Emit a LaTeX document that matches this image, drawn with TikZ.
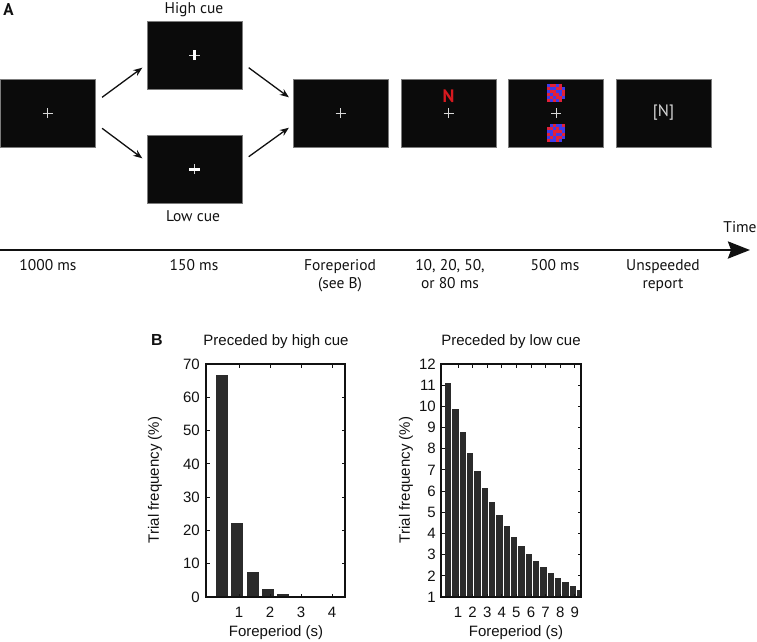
\documentclass[tikz,border=0pt]{standalone}
\usepackage{fontspec}
\setmainfont{PT Sans}
\newfontfamily\fpplotfont{Liberation Sans}
\usetikzlibrary{arrows.meta,calc,positioning}
\definecolor{fpink}{HTML}{111111}
\definecolor{fpscreenfill}{HTML}{0B0B0B}
\definecolor{fpframe}{HTML}{7C7C7C}
\definecolor{fpcrosscol}{HTML}{D8D8D8}
\definecolor{fptargetcol}{HTML}{D7191F}
\definecolor{fpmask0}{HTML}{0B0B0B}
\definecolor{fpmask1}{HTML}{E2203A}
\definecolor{fpmask2}{HTML}{3F3BEA}
\definecolor{fpbarfill}{HTML}{2B2B2B}
\tikzset{
  fpscreen/.style={
    draw=fpframe,
    fill=fpscreenfill,
    line width=0.8pt,
    minimum width=95pt,
    minimum height=68pt,
    inner sep=0pt
  },
  fplabel/.style={font=\fontsize{15.5}{18}\selectfont, text=fpink, inner sep=0pt},
  fptime/.style={fplabel, align=center, anchor=north},
  fppanel/.style={font=\fontsize{17}{18}\selectfont\bfseries, text=fpink, inner sep=0pt},
  fpplot/.style={font=\fpplotfont\fontsize{15}{17}\selectfont, text=fpink, inner sep=0pt},
  fpcross/.style={draw=fpcrosscol, line width=0.9pt},
  fpcue/.style={draw=white, line width=3pt},
  fpedge/.style={
    -{Stealth[length=9pt,width=7pt]},
    line width=1.3pt,
    color=fpink
  },
  fpaxis/.style={
    -{Stealth[length=22pt,width=17pt,inset=3pt]},
    line width=2.6pt,
    color=fpink
  },
  fpbox/.style={draw=fpink, line width=1.1pt},
  fptick/.style={draw=fpink, line width=0.9pt},
  fpbar/.style={fill=fpbarfill}
}
\begin{document}
\begin{tikzpicture}[x=1pt,y=-1pt]
  \useasboundingbox (0,0) rectangle (757,641);

  % panel A: trial sequence
  \node[fppanel] (tagA) at (8.5,10) {A};
  \node[fpscreen] (s1) at (47.5,113) {};
  \node[fpscreen] (high) at (194.5,55) {};
  \node[fpscreen] (low) at (194.5,169) {};
  \node[fpscreen] (fore) at (340.5,113) {};
  \node[fpscreen] (target) at (448.5,113) {};
  \node[fpscreen] (mask) at (556,113) {};
  \node[fpscreen] (report) at (663.5,113) {};

  \node[fplabel] (highlbl) at (194,10) {High cue};
  \node[fplabel] (lowlbl) at (193,216) {Low cue};

  \foreach \s in {s1,fore,target,mask}
    \draw[fpcross] ([xshift=-5pt]\s.center) -- ([xshift=5pt]\s.center)
                   ([yshift=-5pt]\s.center) -- ([yshift=5pt]\s.center);

  \draw[fpcross] ([xshift=-5.5pt]high.center) -- ([xshift=5.5pt]high.center);
  \draw[fpcue] ([yshift=-5pt]high.center) -- ([yshift=5pt]high.center);
  \draw[fpcross] ([yshift=-5pt]low.center) -- ([yshift=5pt]low.center);
  \draw[fpcue] ([xshift=-5.5pt]low.center) -- ([xshift=5.5pt]low.center);

  \node[font=\fontsize{18}{18}\selectfont\bfseries, text=fptargetcol, inner sep=0pt]
    (letter) at (448.5,96) {N};
  \node[fplabel, font=\fontsize{16.5}{18}\selectfont, text=fpcrosscol] (answer)
    at (report.center) {[N]};

  % masks
  \begin{scope}[shift={(mask.center)}]
    \foreach \row [count=\r] in {{2,1,1,2,1,0},{1,2,2,1,1,2},{2,1,1,2,2,1},
                                 {1,2,1,1,2,1},{2,1,2,1,1,2},{1,2,1,2,1,0}}
      \foreach \c [count=\q] in \row
        \fill[fpmask\c] (3*\q-12,3*\r-32.5) rectangle ++(3,3);
    \foreach \row [count=\r] in {{0,2,1,2,2,1},{1,1,2,1,2,2},{2,2,1,1,1,2},
                                 {1,2,1,2,2,1},{2,1,2,1,1,2},{1,2,2,1,2,0}}
      \foreach \c [count=\q] in \row
        \fill[fpmask\c] (3*\q-12,3*\r+7.5) rectangle ++(3,3);
  \end{scope}

  \draw[fpedge] ($(s1.east)+(6.7,-15.7)$) -- ($(high.west)+(-4.3,12.7)$);
  \draw[fpedge] ($(s1.east)+(6.7,15.3)$) -- ($(low.west)+(-4.3,-10.7)$);
  \draw[fpedge] ($(high.east)+(6.3,12.7)$) -- ($(fore.west)+(-3.7,-15.7)$);
  \draw[fpedge] ($(low.east)+(6.3,-12.3)$) -- ($(fore.west)+(-3.7,14.7)$);

  % time line
  \coordinate (tstart) at (0,250);
  \coordinate (tend) at (750,250);
  \draw[fpaxis] (tstart) -- (tend);
  \node[fplabel] (timelbl) at (740,227) {Time};
  \foreach \x/\txt [count=\i] in {48/1000 ms, 194/150 ms, 340/{Foreperiod\\(see B)},
                                  450/{10, 20, 50,\\or 80 ms}, 555/500 ms,
                                  663/{Unspeeded\\report}}
    \node[fptime] (dur\i) at (\x,259) {\txt};

  % panel B: foreperiod distributions
  \node[fpplot, font=\fpplotfont\fontsize{16}{16}\selectfont\bfseries] (tagB) at (157,340) {B};
  \node[fpplot] (titlehigh) at (276,342) {Preceded by high cue};
  \node[fpplot] (titlelow) at (511,342) {Preceded by low cue};

  % high cue histogram
  \foreach \v [count=\k from 0] in {66.7,22.2,7.4,2.5,0.82,0.27,0.09,0.03}
    \fill[fpbar] ({216+15.3*\k},597) rectangle ({228+15.3*\k},{597-3.329*\v});
  \draw[fpbox] (206,364) rectangle (345,597);
  \foreach \v in {0,10,...,70} {
    \draw[fptick] (206,{597-3.329*\v}) -- ++(3.5,0) (345,{597-3.329*\v}) -- ++(-3.5,0);
    \node[fpplot, anchor=east] at (200,{597-3.329*\v}) {\v};
  }
  \foreach \s in {1,...,4} {
    \draw[fptick] ({208+31*\s},597) -- ++(0,-3.5) ({208+31*\s},364) -- ++(0,3.5);
    \node[fpplot] at ({208+31*\s},612) {\s};
  }
  \node[fpplot, rotate=90] (yhigh) at (155,480) {Trial frequency (\%)};
  \node[fpplot] (xhigh) at (276,633) {Foreperiod (s)};

  % low cue histogram
  \begin{scope}
    \clip (441,364) rectangle (581,597);
    \foreach \k in {0,...,18} {
      \pgfmathsetmacro{\fptop}{597-21.18*(11.1*0.889^\k-1)}
      \fill[fpbar] ({445+7.33*\k},597) rectangle ({451.3+7.33*\k},\fptop);
    }
  \end{scope}
  \draw[fpbox] (441,364) rectangle (581,597);
  \foreach \v in {1,...,12} {
    \pgfmathsetmacro{\fpy}{597-21.18*(\v-1)}
    \draw[fptick] (441,\fpy) -- ++(3.5,0) (581,\fpy) -- ++(-3.5,0);
    \node[fpplot, anchor=east] at (436,\fpy) {\v};
  }
  \foreach \s in {1,...,9} {
    \draw[fptick] ({443.4+14.6*\s},597) -- ++(0,-3.5) ({443.4+14.6*\s},364) -- ++(0,3.5);
    \node[fpplot] at ({443.4+14.6*\s},612) {\s};
  }
  \node[fpplot, rotate=90] (ylow) at (406,480) {Trial frequency (\%)};
  \node[fpplot] (xlow) at (516,633) {Foreperiod (s)};
\end{tikzpicture}
\end{document}
